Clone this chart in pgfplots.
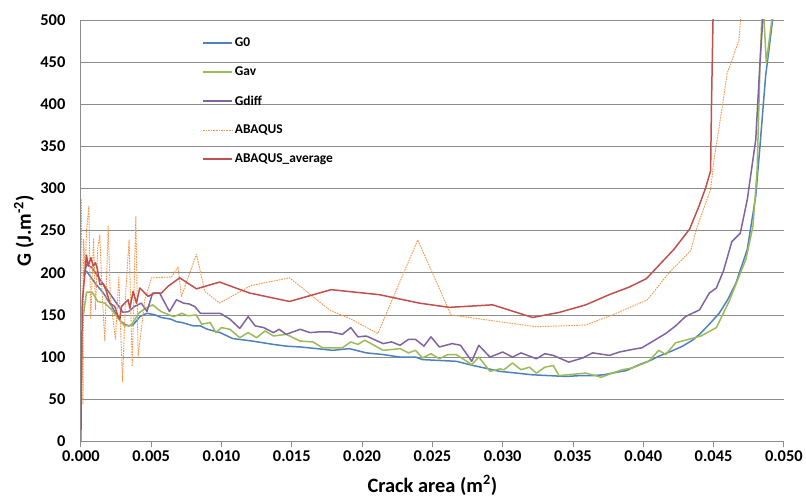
\documentclass[border=0pt]{standalone}
\usepackage{fontspec}
\setmainfont{Carlito}
\usepackage{pgfplots}
\pgfplotsset{compat=1.18}
\definecolor{cGz}{HTML}{4F81BD}
\definecolor{cGav}{HTML}{9BBB59}
\definecolor{cGdiff}{HTML}{8064A2}
\definecolor{cAb}{HTML}{F79646}
\definecolor{cAbav}{HTML}{C0504D}
\definecolor{gridgray}{HTML}{8C8C8C}
\begin{document}
\begin{tikzpicture}
\path (-81bp,-56bp) rectangle (725bp,442bp);
\begin{axis}[
  scale only axis, width=704bp, height=422bp,
  xmin=0, xmax=0.05, ymin=0, ymax=500,
  scaled x ticks=false,
  axis x line=bottom, axis y line=left,
  axis line style={draw=gridgray, line width=0.8bp, -},
  xtick={0,0.005,0.01,0.015,0.02,0.025,0.03,0.035,0.04,0.045,0.05},
  xticklabels={0.000,0.005,0.010,0.015,0.020,0.025,0.030,0.035,0.040,0.045,0.050},
  ytick={0,50,100,150,200,250,300,350,400,450,500},
  yticklabels={0,50,100,150,200,250,300,350,400,450,500},
  ymajorgrids, major grid style={draw=gridgray, line width=0.8bp},
  tick align=outside, major tick length=6bp,
  xtick style={draw=gridgray, line width=0.8bp},
  ytick style={draw=none},
  tick label style={font=\bfseries\fontsize{16.5}{16.5}\selectfont},
  yticklabel style={xshift=-6bp},
  xlabel={Crack area (m\textsuperscript{2})},
  ylabel={G (J.m\textsuperscript{-2})},
  label style={font=\bfseries\fontsize{20.5}{20.5}\selectfont},
  xlabel style={at={(axis description cs:0.5,-0.104)}, anchor=center},
  ylabel style={at={(axis description cs:-0.081,0.5)}, anchor=center},
  legend cell align=left,
  legend style={draw=none, fill=none, at={(axis description cs:0.168,0.967)}, anchor=north west,
    font=\bfseries\fontsize{13.5}{14}\selectfont, row sep=14.5bp},
  every axis plot/.append style={line join=round},
]
\addlegendimage{legend image code/.code={\path[draw=cGz, line width=1.8bp] (0bp,0bp) -- (29bp,0bp);}}
\addlegendentry{G0}
\addlegendimage{legend image code/.code={\path[draw=cGav, line width=1.8bp] (0bp,0bp) -- (29bp,0bp);}}
\addlegendentry{Gav}
\addlegendimage{legend image code/.code={\path[draw=cGdiff, line width=1.8bp] (0bp,0bp) -- (29bp,0bp);}}
\addlegendentry{Gdiff}
\addlegendimage{legend image code/.code={\path[draw=cAb, line width=1.1bp, dash pattern=on 1.6bp off 1bp] (0bp,0bp) -- (29bp,0bp);}}
\addlegendentry{ABAQUS}
\addlegendimage{legend image code/.code={\path[draw=cAbav, line width=1.8bp] (0bp,0bp) -- (29bp,0bp);}}
\addlegendentry{ABAQUS\_average}
\addplot[forget plot, cGz, line width=1.5bp] coordinates {
(0.0002,196)(0.0004,202)(0.0007,195)(0.0010,188)(0.0013,182)(0.0016,176)(0.0019,168)(0.0022,160)(0.0025,151)(0.0028,143)(0.0031,139)(0.0034,137)(0.0037,138)(0.0040,144)(0.0042,148)(0.0047,152)(0.0053,150)(0.0057,147)(0.0064,145)(0.0068,142)(0.0072,141)(0.0080,137)(0.0085,137)(0.0090,133)(0.0099,129)(0.0108,122)(0.0122,119)(0.0137,115)(0.0146,113)(0.0156,112)(0.0168,110)(0.0179,108)(0.0191,110)(0.0203,105)(0.0215,103)(0.0227,100)(0.0238,100)(0.0243,97)(0.0255,96)(0.0267,95)(0.0279,90)(0.0290,86)(0.0298,83)(0.0310,81)(0.0321,79)(0.0333,78)(0.0345,77)(0.0355,78)(0.0364,78)(0.0372,79)(0.0378,81)(0.0388,84)(0.0397,91)(0.0405,96)(0.0411,101)(0.0420,107)(0.0428,113)(0.0435,120)(0.0440,127)(0.0447,139)(0.0454,152)(0.0460,168)(0.0466,188)(0.0474,228)(0.0480,291)(0.0483,350)(0.0487,433)(0.0492,500)(0.0494,530)
};
\addplot[forget plot, cGav, line width=1.5bp] coordinates {
(0.0001,140)(0.0004,177)(0.0008,177)(0.0012,166)(0.0017,164)(0.0022,156)(0.0027,145)(0.0031,137)(0.0036,138)(0.0041,152)(0.0046,158)(0.0051,162)(0.0057,154)(0.0066,148)(0.0072,152)(0.0076,149)(0.0082,150)(0.0086,139)(0.0092,141)(0.0096,129)(0.0100,135)(0.0106,133)(0.0113,123)(0.0119,129)(0.0125,123)(0.0131,131)(0.0137,125)(0.0146,127)(0.0156,119)(0.0165,118)(0.0172,111)(0.0186,111)(0.0192,118)(0.0197,115)(0.0202,120)(0.0215,108)(0.0227,110)(0.0233,105)(0.0238,108)(0.0243,99)(0.0249,104)(0.0255,98)(0.0261,103)(0.0267,103)(0.0278,91)(0.0283,100)(0.0291,83)(0.0298,86)(0.0301,85)(0.0307,93)(0.0313,85)(0.0319,88)(0.0324,81)(0.0330,88)(0.0336,90)(0.0340,78)(0.0359,81)(0.0366,78)(0.0370,76)(0.0378,81)(0.0385,85)(0.0392,87)(0.0404,95)(0.0411,108)(0.0416,103)(0.0423,117)(0.0430,120)(0.0441,125)(0.0452,135)(0.0461,166)(0.0473,216)(0.0478,255)(0.0481,322)(0.0483,445)(0.0485,530)(0.04875,449)(0.0493,520)
};
\addplot[forget plot, cGdiff, line width=1.5bp] coordinates {
(0.0002,195)(0.0004,210)(0.0008,206)(0.0012,196)(0.0017,184)(0.0022,172)(0.0027,160)(0.0030,153)(0.0034,154)(0.0038,160)(0.0043,164)(0.0047,154)(0.0051,176)(0.0056,176)(0.0063,154)(0.0068,168)(0.0073,164)(0.0077,163)(0.0081,160)(0.0085,152)(0.0099,152)(0.0106,145)(0.0113,134)(0.0119,148)(0.0124,137)(0.0130,135)(0.0137,129)(0.0141,133)(0.0146,127)(0.0156,133)(0.0163,129)(0.0170,130)(0.0177,130)(0.0186,127)(0.0192,135)(0.0197,124)(0.0203,125)(0.0215,116)(0.0221,118)(0.0227,114)(0.0233,121)(0.0238,121)(0.0244,113)(0.0249,124)(0.0255,112)(0.0264,116)(0.0270,114)(0.0278,95)(0.0283,114)(0.0291,100)(0.0300,106)(0.0307,100)(0.0313,105)(0.0324,98)(0.0330,104)(0.0336,102)(0.0347,94)(0.0357,99)(0.0364,105)(0.0376,102)(0.0383,106)(0.0392,109)(0.0399,111)(0.0407,119)(0.0416,128)(0.0423,137)(0.0430,148)(0.0440,156)(0.0447,176)(0.0452,182)(0.0457,202)(0.0463,237)(0.0469,247)(0.0474,287)(0.0480,358)(0.0483,449)(0.0485,500)(0.0486,530)
};
\addplot[forget plot, cAb, line width=0.9bp, dash pattern=on 1.6bp off 1bp] coordinates {
(0.00003,287)(0.0001,150)(0.00015,44)(0.0002,240)(0.0003,200)(0.0004,250)(0.00057,279)(0.0007,145)(0.0009,241)(0.00104,156)(0.0012,230)(0.00135,245)(0.0015,180)(0.0017,119)(0.00194,255)(0.0021,170)(0.00246,121)(0.0027,195)(0.00296,71)(0.0032,180)(0.00343,239)(0.00365,89)(0.00391,267)(0.00407,101)(0.00455,168)(0.00502,194)(0.00644,195)(0.00691,207)(0.00715,172)(0.00822,222)(0.00881,178)(0.00987,164)(0.01212,185)(0.01484,194)(0.01768,156)(0.01922,145)(0.02112,128)(0.02396,239)(0.02633,150)(0.03236,136)(0.03591,138)(0.0378,150)(0.04029,168)(0.04183,200)(0.04337,226)(0.04384,255)(0.04479,299)(0.04503,334)(0.04562,397)(0.04597,437)(0.04633,453)(0.0468,476)(0.04692,500)(0.0470,520)
};
\addplot[forget plot, cAbav, line width=1.5bp] coordinates {
(0,0)(0.0001,165)(0.0004,221)(0.00052,208)(0.00071,218)(0.00088,208)(0.00104,212)(0.00118,204)(0.00135,186)(0.00159,187)(0.00182,178)(0.00206,164)(0.00241,160)(0.00265,148)(0.00277,145)(0.00289,160)(0.00312,164)(0.00336,168)(0.00348,158)(0.00372,178)(0.00395,164)(0.00419,182)(0.00443,178)(0.00478,172)(0.00526,176)(0.00573,176)(0.0062,184)(0.00703,194)(0.00822,181)(0.00987,189)(0.012,176)(0.01484,166)(0.0178,180)(0.02124,174)(0.02408,164)(0.02621,159)(0.02928,162)(0.03213,147)(0.03402,153)(0.03591,162)(0.03757,174)(0.03899,183)(0.04022,193)(0.04112,209)(0.04219,228)(0.0433,252)(0.04396,279)(0.04444,301)(0.04479,321)(0.04485,397)(0.04496,500)(0.045,560)
};
\end{axis}
\end{tikzpicture}
\end{document}
